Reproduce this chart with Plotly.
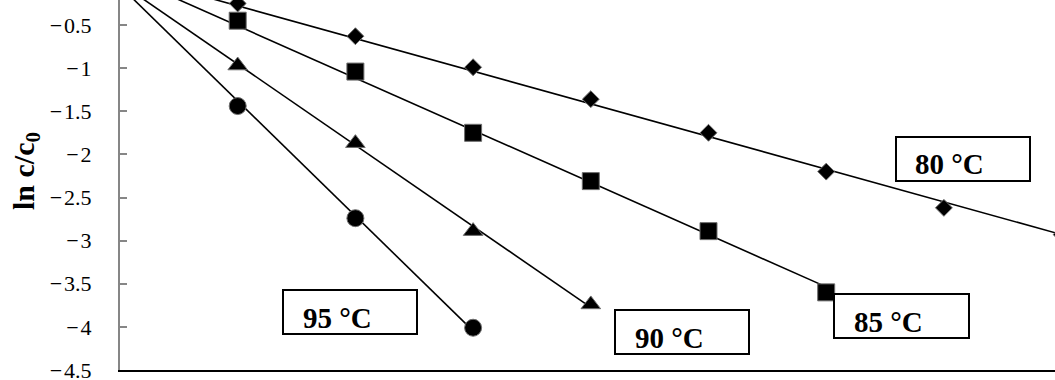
import numpy as np
import plotly.graph_objects as go

# Reaction time steps (same spacing for all temperatures)
time = [0, 1, 2, 3, 4, 5, 6, 7, 8]

# ln(c/c0) at each temperature
ln_80 = [0, -0.25, -0.63, -0.99, -1.36, -1.75, -2.20, -2.62, -2.93]
ln_85 = [0, -0.45, -1.04, -1.75, -2.31, -2.89, -3.60]
ln_90 = [0, -0.97, -1.87, -2.89, -3.74]
ln_95 = [0, -1.44, -2.74, -4.01]

labels = ["80 °C", "85 °C", "90 °C", "95 °C"]
symbols = ["diamond", "square", "triangle-up", "circle"]
sizes = [13, 17, 17, 17]
series = [ln_80, ln_85, ln_90, ln_95]

# y-axis ticks
y_ticks = [-4.5, -4, -3.5, -3, -2.5, -2, -1.5, -1, -0.5]
y_tick_text = ["\u2212\u200a" + f"{abs(v):g}" for v in y_ticks]

FONT = "Liberation Serif, Times New Roman, serif"

# Figure / plot-area geometry in pixels
W, H = 1055, 380
ML, MB = 120, 10
PW, PH = W - ML, H - MB
X_UNIT = 117.7  # pixels per time step

fig = go.Figure()

for vals, sym, sz, name in zip(series, symbols, sizes, labels):
    t = np.array(time[:len(vals)], dtype=float)
    y = np.array(vals, dtype=float)
    # linear trendline over the measured range
    k, b = np.polyfit(t, y, 1)
    tt = np.array([t.min(), t.max()])
    fig.add_trace(go.Scatter(
        x=tt, y=k * tt + b, mode="lines",
        line=dict(color="black", width=1.6),
        hoverinfo="skip", showlegend=False))
    fig.add_trace(go.Scatter(
        x=t, y=y, mode="markers", name=name,
        marker=dict(symbol=sym, size=sz, color="black",
                    line=dict(color="#6e6e6e", width=1)),
        showlegend=False))


def px_x(px):
    return (px - ML) / PW


def px_y(py):
    return (H - MB - py) / PH


# Temperature label boxes: (label, left, top, right, bottom, text-left, text-mid)
boxes = [
    ("80 °C", 896, 137, 1030, 181, 913, 164),
    ("85 °C", 834, 294, 969, 338, 852, 322),
    ("90 °C", 615, 310, 749, 354, 633, 338),
    ("95 °C", 283, 290, 417, 334, 301, 318),
]
shapes = []
annotations = []
for text, x0, y0, x1, y1, tx, ty in boxes:
    shapes.append(dict(type="rect", xref="paper", yref="paper",
                       x0=px_x(x0), x1=px_x(x1), y0=px_y(y1), y1=px_y(y0),
                       line=dict(color="black", width=2),
                       fillcolor="white", layer="above"))
    annotations.append(dict(text=f"<b>{text}</b>", xref="paper", yref="paper",
                            x=px_x(tx), y=px_y(ty), xanchor="left",
                            yanchor="middle", showarrow=False,
                            font=dict(family=FONT, size=29, color="black")))

# Rotated y-axis title
annotations.append(dict(text="<b>ln c/c<sub>0</sub></b>", xref="paper", yref="paper",
                        x=px_x(26), y=px_y(171), xanchor="center", yanchor="middle",
                        textangle=-90, showarrow=False,
                        font=dict(family=FONT, size=30, color="black")))

fig.update_layout(
    width=W, height=H,
    margin=dict(l=ML, r=0, t=0, b=MB, pad=0, autoexpand=False),
    paper_bgcolor="white", plot_bgcolor="white",
    shapes=shapes, annotations=annotations,
    xaxis=dict(range=[0, PW / X_UNIT], showgrid=False, zeroline=False,
               showticklabels=False, ticks="", showline=True,
               linecolor="black", linewidth=2, automargin=False),
    yaxis=dict(range=[-4.5, -0.5 + 25 / 86.25], showgrid=False, zeroline=False,
               tickmode="array", tickvals=y_ticks, ticktext=y_tick_text,
               ticks="inside", ticklen=7, tickwidth=1.5, tickcolor="#868686",
               showline=True, linecolor="#868686", linewidth=2,
               ticklabelstandoff=22, ticklabeloverflow="allow", automargin=False,
               tickfont=dict(family=FONT, size=22, color="black")),
)

fig.write_html("out.html")
